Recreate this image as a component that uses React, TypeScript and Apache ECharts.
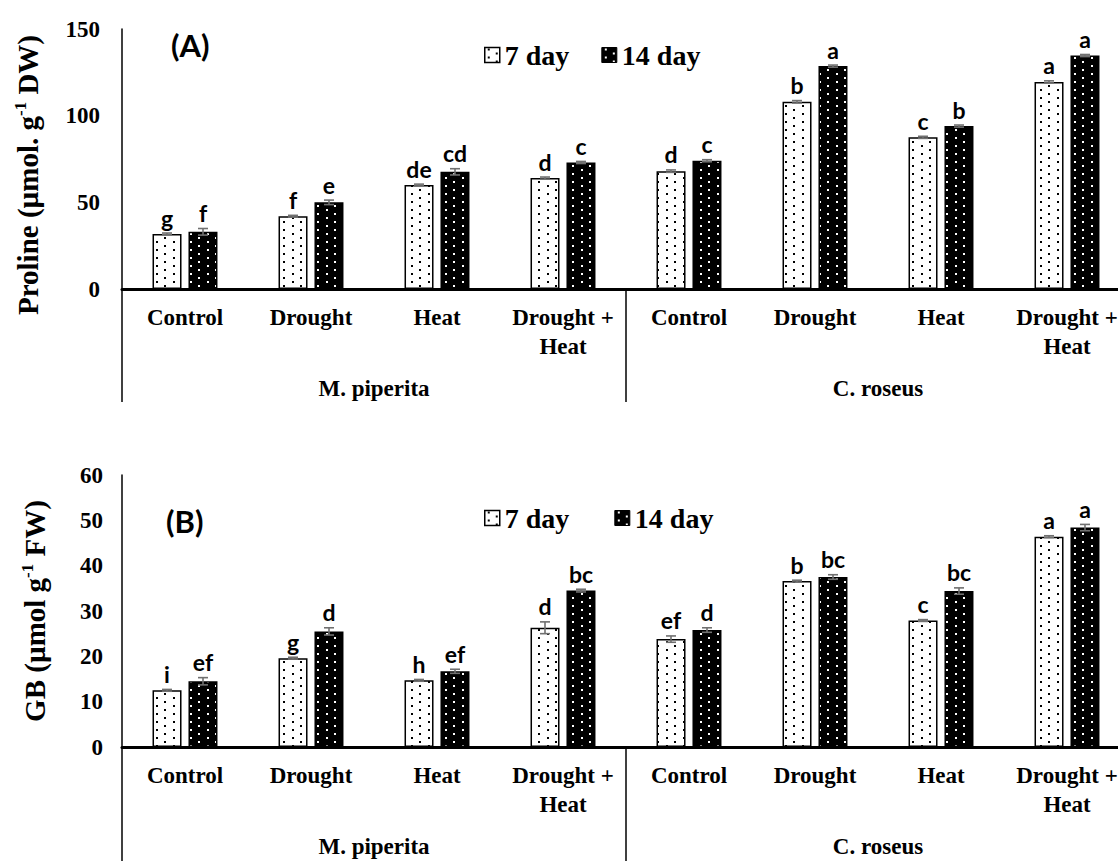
import React, { useEffect, useRef } from "react";
import * as echarts from "echarts";

const categories = ["Control", "Drought", "Heat", "Drought +\nHeat", "Control", "Drought", "Heat", "Drought +\nHeat"];
const groups = ["M. piperita", "C. roseus"];
const seriesNames = ["7 day", "14 day"];

const prolineDay7 = [31.8, 42, 60, 64, 68, 108, 87.5, 119.5];
const prolineDay14 = [33, 50, 67.6, 73, 74, 128.6, 94, 134.7];
const prolineErr7 = [0.5, 0.5, 0.5, 0.6, 0.7, 0.7, 0.6, 0.6];
const prolineErr14 = [1.9, 1.3, 1.8, 0.6, 0.6, 0.6, 0.6, 0.6];
const prolineLetters7 = ["g", "f", "de", "d", "d", "b", "c", "a"];
const prolineLetters14 = ["f", "e", "cd", "c", "c", "a", "b", "a"];
const prolineAxis = { min: 0, max: 150, interval: 50 };

const gbDay7 = [12.5, 19.6, 14.7, 26.3, 23.8, 36.6, 27.9, 46.4];
const gbDay14 = [14.5, 25.5, 16.7, 34.5, 25.8, 37.5, 34.4, 48.4];
const gbErr7 = [0.2, 0.2, 0.2, 1.3, 0.7, 0.2, 0.2, 0.2];
const gbErr14 = [0.8, 0.8, 0.45, 0.3, 0.5, 0.5, 0.7, 0.7];
const gbLetters7 = ["i", "g", "h", "d", "ef", "b", "c", "a"];
const gbLetters14 = ["ef", "d", "ef", "bc", "d", "bc", "bc", "a"];
const gbAxis = { min: 0, max: 60, interval: 10 };

const SERIF = "Liberation Serif";
const SANS = "Lato";
const BAR_W = 29;
const BAR_GAP = "24%";
const SHIFT = 18;

function makePattern(bg: string, dot: string) {
  const c = document.createElement("canvas");
  c.width = 17;
  c.height = 8;
  const ctx = c.getContext("2d")!;
  ctx.fillStyle = bg;
  ctx.fillRect(0, 0, 17, 8);
  ctx.fillStyle = dot;
  ctx.fillRect(3, 1, 2, 2);
  ctx.fillRect(11, 5, 2, 2);
  return c;
}

function errSeries(xIdx: number, yIdx: number, vals: number[], errs: number[], letters: string[], shift: number) {
  return {
    type: "custom",
    xAxisIndex: xIdx,
    yAxisIndex: yIdx,
    silent: true,
    z: 10,
    data: vals.map((v, i) => [i, v, errs[i]]),
    encode: { x: 0, y: 1 },
    renderItem: (params: any, api: any) => {
      const i = api.value(0);
      const v = api.value(1);
      const e = api.value(2);
      const top = api.coord([i, v + e]);
      const bot = api.coord([i, v - e]);
      const x = top[0] + shift;
      const cap = 5;
      const st = { stroke: "#707070", lineWidth: 1.6 };
      return {
        type: "group",
        children: [
          { type: "line", shape: { x1: x, y1: top[1], x2: x, y2: bot[1] }, style: st },
          { type: "line", shape: { x1: x - cap, y1: top[1], x2: x + cap, y2: top[1] }, style: st },
          { type: "line", shape: { x1: x - cap, y1: bot[1], x2: x + cap, y2: bot[1] }, style: st },
          {
            type: "text",
            x: x,
            y: top[1] - 4,
            style: {
              text: letters[i],
              font: `bold 23px ${SANS}`,
              fill: "#000",
              align: "center",
              verticalAlign: "bottom",
            },
          },
        ],
      };
    },
  };
}

export default function App() {
  const ref = useRef<HTMLDivElement>(null);
  useEffect(() => {
    if (!ref.current) return;
    const chart = echarts.init(ref.current, null, { renderer: "svg" });
    const patWhite = { image: makePattern("#ffffff", "#000000"), repeat: "repeat" };
    const patBlack = { image: makePattern("#000000", "#ffffff"), repeat: "repeat" };

    const catLabel = {
      interval: 0,
      margin: 14,
      fontFamily: SERIF,
      fontWeight: "bold",
      fontSize: 23,
      lineHeight: 29,
      color: "#000",
    };
    const groupLabel = { ...catLabel, margin: 85 };
    const yLabel = { fontFamily: SERIF, fontWeight: "bold", fontSize: 23, color: "#000" };
    const legendText = { fontFamily: SERIF, fontWeight: "bold", fontSize: 28, color: "#000" };
    const nameStyle = (pad: number[]) => ({
      fontFamily: SERIF,
      fontWeight: "bold",
      fontSize: 29,
      lineHeight: 32,
      color: "#000",
      padding: pad,
      rich: {
        sup: { fontFamily: SERIF, fontWeight: "bold", fontSize: 17, lineHeight: 32, verticalAlign: "top", color: "#000" },
      },
    });

    const legendData = [
      { name: seriesNames[0], itemStyle: { borderColor: "#000", borderWidth: 1.5 } },
      { name: seriesNames[1], itemStyle: { borderColor: "#000", borderWidth: 1 } },
    ];

    const barSeries = (name: string, xi: number, yi: number, data: number[], white: boolean) => ({
      type: "bar",
      name,
      xAxisIndex: xi,
      yAxisIndex: yi,
      data,
      barWidth: BAR_W,
      barGap: BAR_GAP,
      itemStyle: {
        color: white ? patWhite : patBlack,
        borderColor: "#000",
        borderWidth: 1.5,
      },
    });

    const option: any = {
      animation: false,
      backgroundColor: "#fff",
      title: [
        { text: "(A)", left: 166, top: 24, textStyle: { fontFamily: SANS, fontWeight: "bold", fontSize: 31, color: "#000" } },
        { text: "(B)", left: 161, top: 500, textStyle: { fontFamily: SANS, fontWeight: "bold", fontSize: 31, color: "#000" } },
      ],
      legend: [
        { data: legendData, icon: "rect", left: 479, top: 36, itemWidth: 15, itemHeight: 15, itemGap: 32, textStyle: legendText, selectedMode: false },
        { data: legendData, icon: "rect", left: 479, top: 499, itemWidth: 15, itemHeight: 15, itemGap: 45, textStyle: legendText, selectedMode: false },
      ],
      grid: [
        { left: 122, top: 25, width: 1008, height: 264 },
        { left: 122, top: 475, width: 1008, height: 278 },
      ],
      xAxis: [
        {
          type: "category", gridIndex: 0, data: categories, position: "bottom",
          axisLine: { lineStyle: { color: "#000", width: 3 } }, axisTick: { show: false }, axisLabel: catLabel,
        },
        {
          type: "category", gridIndex: 0, data: groups, position: "bottom", offset: 0,
          axisLine: { show: false },
          axisTick: { show: true, length: 113, lineStyle: { color: "#000", width: 1.5 } },
          axisLabel: groupLabel,
        },
        {
          type: "category", gridIndex: 1, data: categories, position: "bottom",
          axisLine: { lineStyle: { color: "#000", width: 3 } }, axisTick: { show: false }, axisLabel: catLabel,
        },
        {
          type: "category", gridIndex: 1, data: groups, position: "bottom", offset: 0,
          axisLine: { show: false },
          axisTick: { show: true, length: 120, lineStyle: { color: "#000", width: 1.5 } },
          axisLabel: groupLabel,
        },
      ],
      yAxis: [
        {
          type: "value", gridIndex: 0, ...prolineAxis,
          axisLine: { show: true, lineStyle: { color: "#000", width: 1.5 } },
          axisTick: { show: false }, splitLine: { show: false },
          axisLabel: { ...yLabel, margin: 22 },
          name: "Proline (µmol. g{sup|-1} DW)", nameLocation: "middle", nameGap: 78,
          nameTextStyle: nameStyle([0, 32, 0, 0]),
        },
        {
          type: "value", gridIndex: 1, ...gbAxis,
          axisLine: { show: true, lineStyle: { color: "#000", width: 1.5 } },
          axisTick: { show: false }, splitLine: { show: false },
          axisLabel: { ...yLabel, margin: 19 },
          name: "GB (µmol g{sup|-1} FW)", nameLocation: "middle", nameGap: 71,
          nameTextStyle: nameStyle([0, 0, 0, 0]),
        },
      ],
      series: [
        barSeries("7 day", 0, 0, prolineDay7, true),
        barSeries("14 day", 0, 0, prolineDay14, false),
        barSeries("7 day", 2, 1, gbDay7, true),
        barSeries("14 day", 2, 1, gbDay14, false),
        errSeries(0, 0, prolineDay7, prolineErr7, prolineLetters7, -SHIFT),
        errSeries(0, 0, prolineDay14, prolineErr14, prolineLetters14, SHIFT),
        errSeries(2, 1, gbDay7, gbErr7, gbLetters7, -SHIFT),
        errSeries(2, 1, gbDay14, gbErr14, gbLetters14, SHIFT),
      ],
    };
    chart.setOption(option);
    return () => chart.dispose();
  }, []);
  return (
    <div
      ref={ref}
      style={{ position: "fixed", left: 0, top: 0, width: "1150px", height: "861px", background: "#fff" }}
    />
  );
}
